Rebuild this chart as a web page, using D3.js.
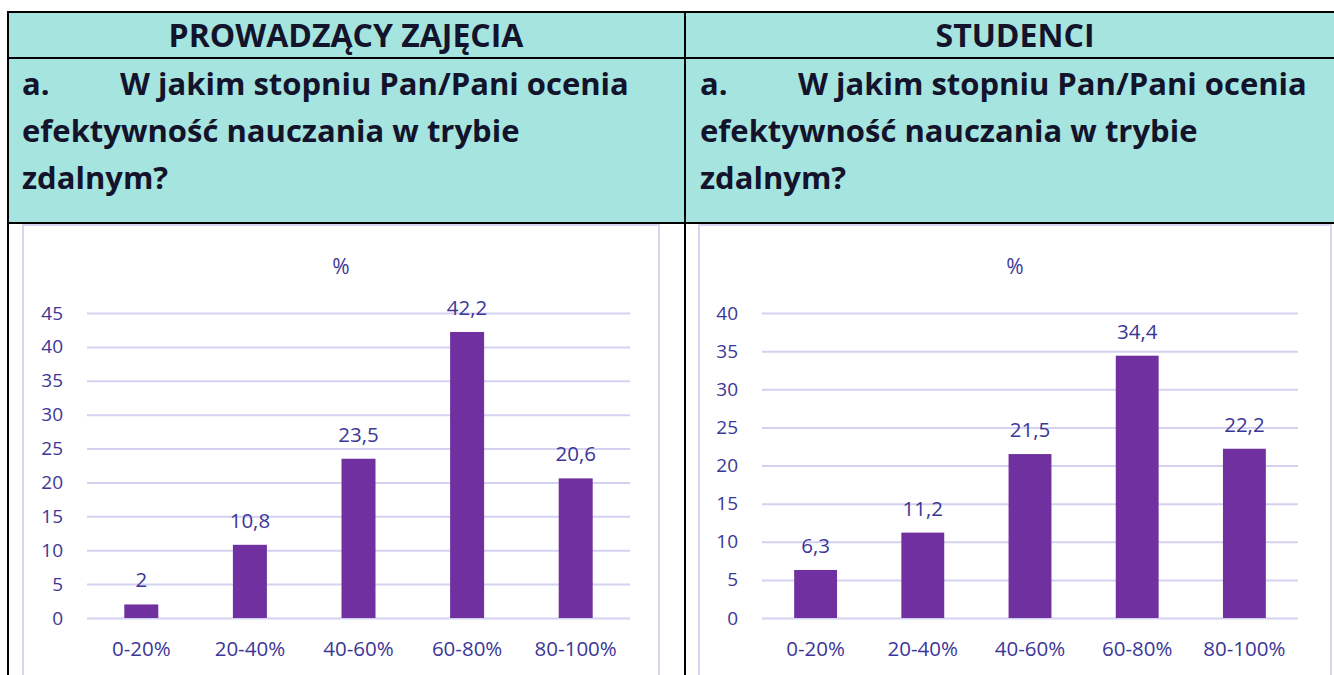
<!DOCTYPE html>
<html>
<head>
<meta charset="utf-8">
<script src="https://cdn.jsdelivr.net/npm/d3@7"></script>
<style>
  body { margin: 0; background: #fff; }
  svg { display: block; }
</style>
</head>
<body>
<svg id="chart"></svg>
<script>
// dane z obu wykresów
const categories = ["0-20%", "20-40%", "40-60%", "60-80%", "80-100%"];
const teacherValues = [2, 10.8, 23.5, 42.2, 20.6];
const studentValues = [6.3, 11.2, 21.5, 34.4, 22.2];
const teacherTicks = [0, 5, 10, 15, 20, 25, 30, 35, 40, 45];
const studentTicks = [0, 5, 10, 15, 20, 25, 30, 35, 40];
const headers = ["PROWADZĄCY ZAJĘCIA", "STUDENCI"];
const questionNo = "a.";
const questionLines = ["W jakim stopniu Pan/Pani ocenia", "efektywność nauczania w trybie", "zdalnym?"];
const chartTitle = "%";

let width = 1334;
let height = 675;
let svg = d3.select("#chart").attr("width", width).attr("height", height);

const teal = "#a6e4df";
const headFont = "'Open Sans', sans-serif";
const chartFont = "'Open Sans', sans-serif";
const textBlue = "#3c3796";
const gridColor = "#d5d1f1";
const barColor = "#7030a0";

const plPL = d3.formatLocale({ decimal: ",", thousands: " ", grouping: [3], currency: ["", " zł"] });
const fmt = plPL.format("~g");

// tabela: kolumny
const cols = [
  { x0: 7, x1: 685 },
  { x0: 685, x1: 1345 }
];
const rowTop = 12, row1 = 58, row2 = 223;

// tło nagłówków
svg.append("rect")
  .attr("x", 7).attr("y", rowTop)
  .attr("width", 1345 - 7).attr("height", row2 - rowTop)
  .attr("fill", teal);

// linie tabeli
let grid = svg.append("g").attr("stroke", "#000").attr("stroke-width", 2);
[rowTop, row1, row2].forEach(y => {
  grid.append("line").attr("x1", 7).attr("x2", 1345).attr("y1", y).attr("y2", y);
});

// teksty nagłówków
cols.forEach((c, i) => {
  svg.append("text")
    .attr("x", (c.x0 + c.x1) / 2)
    .attr("y", 47)
    .attr("text-anchor", "middle")
    .attr("font-family", headFont)
    .attr("font-weight", "bold")
    .attr("font-size", 32)
    .attr("fill", "#13132b")
    .text(headers[i]);

  let q = svg.append("g")
    .attr("font-family", headFont)
    .attr("font-weight", "bold")
    .attr("font-size", 31)
    .attr("fill", "#13132b");
  q.append("text").attr("x", c.x0 + 15).attr("y", 95).text(questionNo);
  questionLines.forEach((line, j) => {
    q.append("text")
      .attr("x", j === 0 ? c.x0 + 113 : c.x0 + 15)
      .attr("y", 95 + j * 47)
      .text(line);
  });
});

// wykresy słupkowe
function drawChart(opts) {
  let g = svg.append("g");

  // ramka wykresu
  g.append("rect")
    .attr("x", opts.boxX0).attr("y", 225)
    .attr("width", opts.boxX1 - opts.boxX0).attr("height", 470)
    .attr("fill", "#fff")
    .attr("stroke", "#d8d4f2")
    .attr("stroke-width", 2);

  let x = d3.scaleBand()
    .domain(categories)
    .range([opts.gx0, opts.gx1])
    .paddingInner(opts.pad)
    .paddingOuter(opts.pad / 2);

  let y = d3.scaleLinear()
    .domain([0, d3.max(opts.ticks)])
    .range([618, 313]);

  // siatka + etykiety osi Y
  let yAxis = g.append("g")
    .attr("transform", `translate(${opts.gx0},0)`)
    .call(d3.axisLeft(y).tickValues(opts.ticks).tickSize(-(opts.gx1 - opts.gx0)).tickPadding(24));
  yAxis.select(".domain").remove();
  yAxis.selectAll(".tick line").attr("stroke", gridColor).attr("stroke-width", 2);
  yAxis.selectAll(".tick text")
    .attr("fill", textBlue)
    .attr("font-family", chartFont)
    .attr("font-size", 19);

  // etykiety kategorii
  let xAxis = g.append("g")
    .attr("transform", "translate(0,618)")
    .call(d3.axisBottom(x).tickSize(0).tickPadding(23));
  xAxis.select(".domain").remove();
  xAxis.selectAll(".tick text")
    .attr("fill", textBlue)
    .attr("font-family", chartFont)
    .attr("font-size", 20.5);

  // słupki
  g.append("g")
    .selectAll("rect")
    .data(opts.values)
    .join("rect")
    .attr("x", (d, i) => x(categories[i]))
    .attr("y", d => y(d))
    .attr("width", x.bandwidth())
    .attr("height", d => y(0) - y(d))
    .attr("fill", barColor);

  // etykiety wartości
  g.append("g")
    .selectAll("text")
    .data(opts.values)
    .join("text")
    .attr("x", (d, i) => x(categories[i]) + x.bandwidth() / 2)
    .attr("y", d => y(d) - 17)
    .attr("text-anchor", "middle")
    .attr("fill", textBlue)
    .attr("font-family", chartFont)
    .attr("font-size", 20.5)
    .text(d => fmt(d));

  // tytuł
  g.append("text")
    .attr("x", (opts.boxX0 + opts.boxX1) / 2)
    .attr("y", 274)
    .attr("text-anchor", "middle")
    .attr("fill", textBlue)
    .attr("font-family", chartFont)
    .attr("font-size", 21)
    .text(chartTitle);
}

drawChart({ values: teacherValues, ticks: teacherTicks, boxX0: 23, boxX1: 659, gx0: 87, gx1: 630, pad: 0.687 });
drawChart({ values: studentValues, ticks: studentTicks, boxX0: 699, boxX1: 1331, gx0: 762, gx1: 1298, pad: 0.6 });

// pionowe linie tabeli na wierzchu
let vlines = svg.append("g").attr("stroke", "#000").attr("stroke-width", 2);
[8, 685].forEach(x => {
  vlines.append("line").attr("x1", x).attr("x2", x).attr("y1", rowTop).attr("y2", height);
});
</script>
</body>
</html>
